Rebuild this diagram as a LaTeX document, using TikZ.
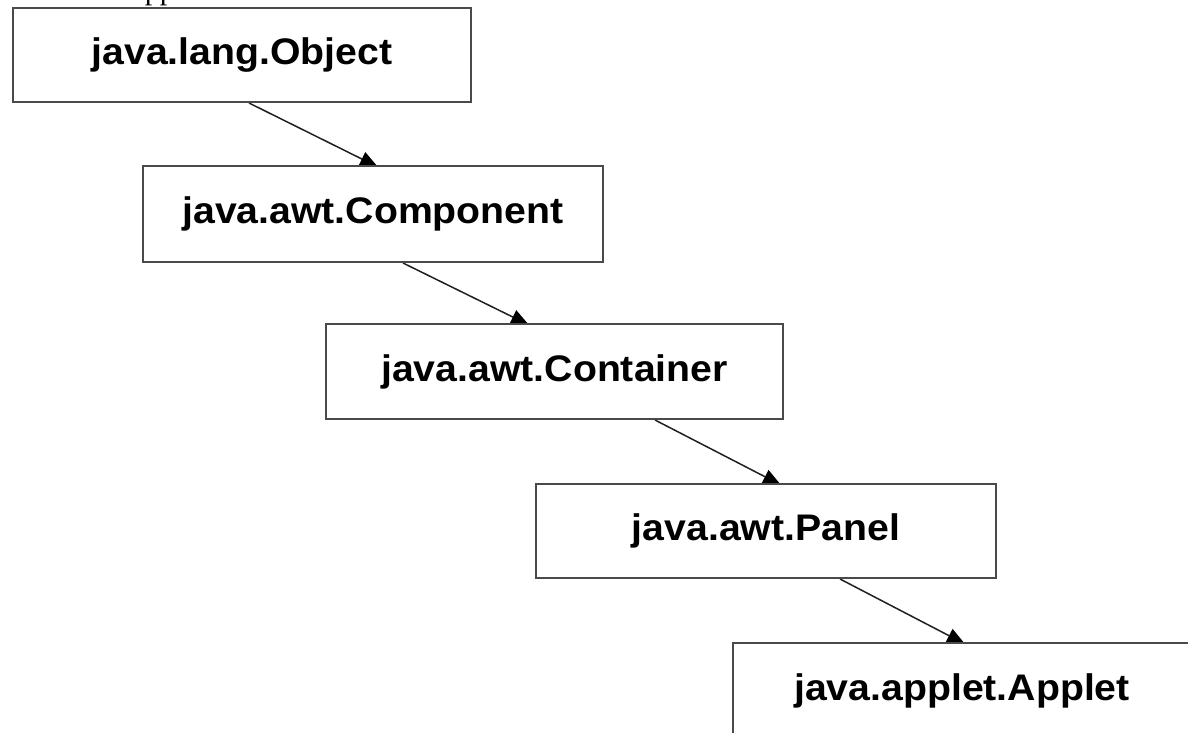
\documentclass[tikz,border=0pt]{standalone}
\usepackage{fontspec}
\setmainfont{Liberation Sans}
\newfontfamily\serifcap{Liberation Serif}
\usetikzlibrary{arrows.meta,backgrounds}
\definecolor{boxline}{HTML}{4A4A4A}
\definecolor{arrline}{HTML}{202020}
\tikzset{
  classbox/.style={draw=boxline, line width=2pt, fill=white, anchor=north west,
    inner sep=0pt, align=center,
    font=\fontsize{37}{40}\selectfont\bfseries},
  inherit/.style={draw=arrline, line width=1.5pt,
    -{Triangle[length=18pt,width=15pt,color=black]}}
}
\newcommand{\cls}[1]{\scalebox{1.06}[1]{#1}}
\begin{document}
\begin{tikzpicture}[x=1pt,y=-1pt]
\useasboundingbox (0,0) rectangle (1188,733);
% cut-off caption text at the top
\node[anchor=base west, inner sep=0pt, font=\serifcap\fontsize{30}{34}\selectfont] (cap) at (123,0) {Applet};
% boxes
\node[classbox, minimum width=458pt, minimum height=94pt] (obj) at (12,7) {\cls{java.lang.Object}};
\node[classbox, minimum width=460pt, minimum height=96pt] (comp) at (142,165) {\cls{java.awt.Component}};
\node[classbox, minimum width=457pt, minimum height=95pt] (cont) at (325,323) {\cls{java.awt.Container}};
\node[classbox, minimum width=460pt, minimum height=94pt] (pan) at (535,483) {\cls{java.awt.Panel}};
\node[classbox, minimum width=458pt, minimum height=96pt] (app) at (732,642) {\cls{java.applet.Applet}};
% connectors (drawn beneath boxes, heads partly hidden)
\begin{scope}[on background layer]
\draw[inherit] ([xshift=237pt]obj.south west) -- ([xshift=236pt,yshift=-2pt]comp.north west);
\draw[inherit] ([xshift=261pt]comp.south west) -- ([xshift=204pt,yshift=-2pt]cont.north west);
\draw[inherit] ([xshift=330pt]cont.south west) -- ([xshift=246pt,yshift=-2pt]pan.north west);
\draw[inherit] ([xshift=305pt]pan.south west) -- ([xshift=233pt,yshift=-2pt]app.north west);
\end{scope}
\end{tikzpicture}
\end{document}
